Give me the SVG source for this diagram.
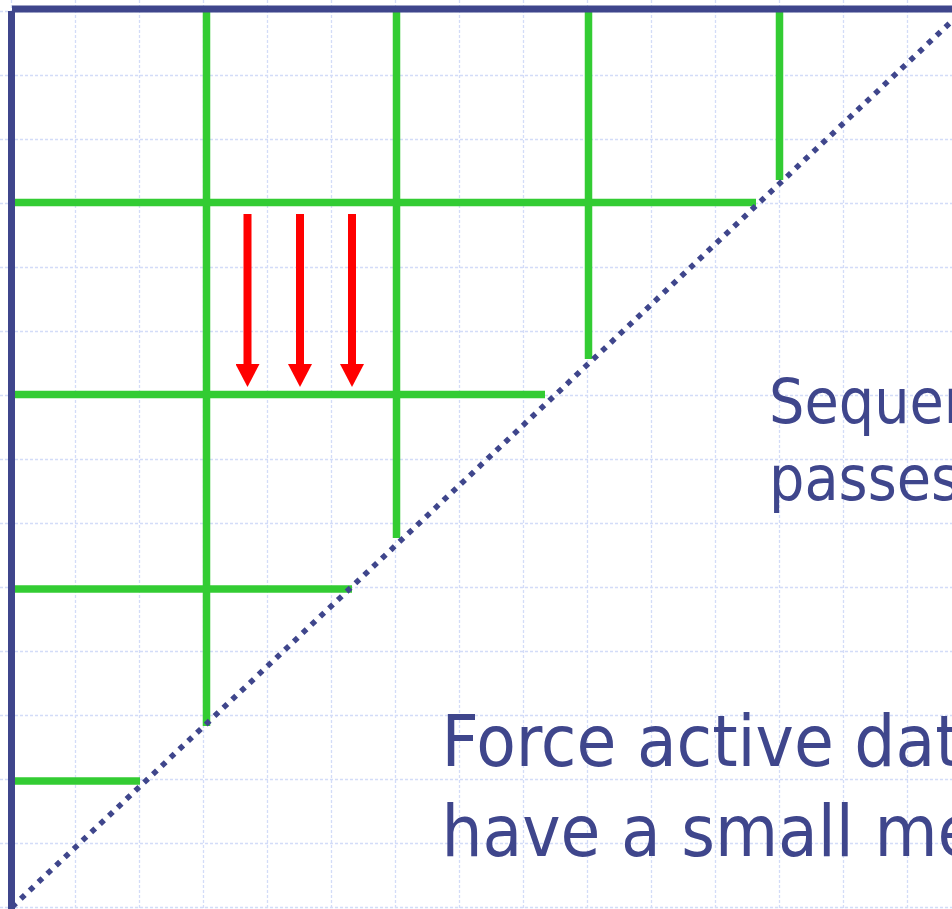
<svg xmlns="http://www.w3.org/2000/svg" width="952" height="909" viewBox="0 0 952 909">
  <style>
    .grid line { stroke: #d3dcf8; stroke-width: 1.3; stroke-dasharray: 3 2; }
    .axis { stroke: #3f468c; stroke-width: 7; fill: none; }
    .green { stroke: #33cc33; stroke-width: 7.5; fill: none; }
    .diag { stroke: #3f468c; stroke-width: 5.5; stroke-dasharray: 5.5 6.6; fill: none; }
    .arrow { stroke: #ff0000; stroke-width: 8; fill: none; }
    .txt { fill: #3f468c; font-family: 'DejaVu Sans Condensed', 'DejaVu Sans', sans-serif; font-stretch: condensed; }
  </style>
  <defs>
    <marker id="ah" markerUnits="userSpaceOnUse" markerWidth="24" markerHeight="24" refX="0" refY="12" orient="auto">
      <path d="M0,0 L23,12 L0,24 z" fill="#ff0000"/>
    </marker>
  </defs>
  <rect width="952" height="909" fill="#ffffff"/>
  <g id="grid" class="grid">
    <line x1="11.5" y1="0" x2="11.5" y2="909"/>
    <line x1="75.5" y1="0" x2="75.5" y2="909"/>
    <line x1="139.5" y1="0" x2="139.5" y2="909"/>
    <line x1="203.5" y1="0" x2="203.5" y2="909"/>
    <line x1="267.5" y1="0" x2="267.5" y2="909"/>
    <line x1="331.5" y1="0" x2="331.5" y2="909"/>
    <line x1="395.5" y1="0" x2="395.5" y2="909"/>
    <line x1="459.5" y1="0" x2="459.5" y2="909"/>
    <line x1="523.5" y1="0" x2="523.5" y2="909"/>
    <line x1="587.5" y1="0" x2="587.5" y2="909"/>
    <line x1="651.5" y1="0" x2="651.5" y2="909"/>
    <line x1="715.5" y1="0" x2="715.5" y2="909"/>
    <line x1="779.5" y1="0" x2="779.5" y2="909"/>
    <line x1="843.5" y1="0" x2="843.5" y2="909"/>
    <line x1="907.5" y1="0" x2="907.5" y2="909"/>
    <line x1="0" y1="11.5" x2="952" y2="11.5"/>
    <line x1="0" y1="75.5" x2="952" y2="75.5"/>
    <line x1="0" y1="139.5" x2="952" y2="139.5"/>
    <line x1="0" y1="203.5" x2="952" y2="203.5"/>
    <line x1="0" y1="267.5" x2="952" y2="267.5"/>
    <line x1="0" y1="331.5" x2="952" y2="331.5"/>
    <line x1="0" y1="395.5" x2="952" y2="395.5"/>
    <line x1="0" y1="459.5" x2="952" y2="459.5"/>
    <line x1="0" y1="523.5" x2="952" y2="523.5"/>
    <line x1="0" y1="587.5" x2="952" y2="587.5"/>
    <line x1="0" y1="651.5" x2="952" y2="651.5"/>
    <line x1="0" y1="715.5" x2="952" y2="715.5"/>
    <line x1="0" y1="779.5" x2="952" y2="779.5"/>
    <line x1="0" y1="843.5" x2="952" y2="843.5"/>
    <line x1="0" y1="907.5" x2="952" y2="907.5"/>
  </g>
  <g id="green-lines" class="green">
    <line x1="206.5" y1="10" x2="206.5" y2="726"/>
    <line x1="396.5" y1="10" x2="396.5" y2="538"/>
    <line x1="588.5" y1="10" x2="588.5" y2="359"/>
    <line x1="779.5" y1="10" x2="779.5" y2="180"/>
    <line x1="12" y1="202.5" x2="756" y2="202.5"/>
    <line x1="12" y1="394.5" x2="545" y2="394.5"/>
    <line x1="12" y1="589" x2="352" y2="589"/>
    <line x1="12" y1="781" x2="140" y2="781"/>
  </g>
  <g id="axes" class="axis">
    <line x1="12" y1="9" x2="952" y2="9"/>
    <line x1="11.5" y1="11" x2="11.5" y2="909"/>
  </g>
  <g id="diagonal">
    <line class="diag" x1="12" y1="907" x2="952" y2="21"/>
  </g>
  <g id="connectors" class="arrow">
    <line x1="247.5" y1="214" x2="247.5" y2="364" marker-end="url(#ah)"/>
    <line x1="300" y1="214" x2="300" y2="364" marker-end="url(#ah)"/>
    <line x1="352" y1="214" x2="352" y2="364" marker-end="url(#ah)"/>
  </g>
  <g id="text-upper" class="txt" font-size="62">
    <text x="769" y="423">Sequen</text>
    <text x="769" y="500">passes</text>
  </g>
  <g id="text-lower" class="txt" font-size="72">
    <text x="441.5" y="766">Force active dat</text>
    <text x="441.5" y="856">have a small me</text>
  </g>
</svg>
